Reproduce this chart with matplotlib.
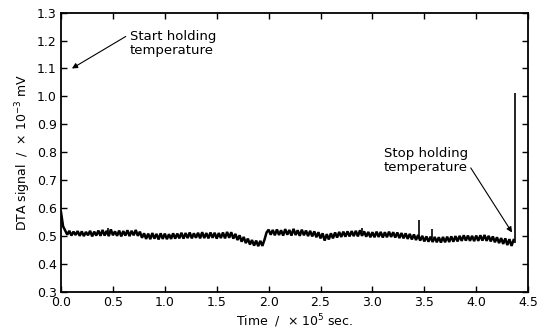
import numpy as np
import matplotlib
matplotlib.use("Agg")
import matplotlib.pyplot as plt

plt.rcParams['font.family'] = ['DejaVu Sans']
plt.rcParams['path.simplify'] = False

# DTA trace read off the picture, sampled every 0.02 x 10^5 s from 0 to 4.36
# (upper / lower edge of the noisy band taken in turn)
signal = [
    0.585, 0.535, 0.520, 0.505, 0.519, 0.502, 0.516, 0.504, 0.518, 0.501,
    0.517, 0.500, 0.515, 0.503, 0.519, 0.499, 0.516, 0.502, 0.520, 0.501,
    0.522, 0.502, 0.519, 0.500, 0.524, 0.503, 0.517, 0.501, 0.520, 0.499,
    0.518, 0.502, 0.521, 0.500, 0.519, 0.503, 0.522, 0.501, 0.516, 0.494,
    0.510, 0.490, 0.509, 0.489, 0.511, 0.491, 0.508, 0.488, 0.510, 0.490,
    0.509, 0.489, 0.507, 0.490, 0.510, 0.491, 0.509, 0.492, 0.512, 0.491,
    0.511, 0.493, 0.513, 0.492, 0.510, 0.494, 0.512, 0.492, 0.514, 0.493,
    0.511, 0.492, 0.513, 0.494, 0.512, 0.491, 0.511, 0.493, 0.513, 0.492,
    0.515, 0.494, 0.514, 0.491, 0.508, 0.486, 0.503, 0.480, 0.497, 0.475,
    0.491, 0.470, 0.486, 0.466, 0.484, 0.464, 0.483, 0.465, 0.487, 0.513,
    0.523, 0.505, 0.522, 0.503, 0.524, 0.504, 0.521, 0.502, 0.525, 0.505,
    0.522, 0.502, 0.526, 0.504, 0.521, 0.501, 0.523, 0.503, 0.520, 0.500,
    0.519, 0.499, 0.517, 0.496, 0.514, 0.492, 0.510, 0.484, 0.507, 0.488,
    0.510, 0.492, 0.513, 0.495, 0.515, 0.497, 0.516, 0.498, 0.517, 0.499,
    0.518, 0.500, 0.519, 0.499, 0.521, 0.501, 0.517, 0.498, 0.515, 0.496,
    0.514, 0.496, 0.516, 0.497, 0.515, 0.495, 0.514, 0.496, 0.516, 0.497,
    0.514, 0.495, 0.513, 0.493, 0.511, 0.492, 0.510, 0.490, 0.508, 0.488,
    0.506, 0.486, 0.504, 0.484, 0.501, 0.481, 0.499, 0.480, 0.498, 0.479,
    0.497, 0.478, 0.496, 0.477, 0.497, 0.478, 0.498, 0.479, 0.499, 0.480,
    0.500, 0.481, 0.501, 0.483, 0.503, 0.484, 0.502, 0.483, 0.501, 0.482,
    0.502, 0.483, 0.503, 0.484, 0.504, 0.483, 0.501, 0.481, 0.499, 0.478,
    0.496, 0.475, 0.493, 0.472, 0.492, 0.468, 0.489, 0.465, 0.486,
]
t_end = 4.36

# isolated spikes (time, base, top)
spike_t = [0.45, 2.90, 3.45, 3.57, 4.37]
spike_base = [0.515, 0.515, 0.500, 0.495, 0.475]
spike_top = [0.528, 0.530, 0.558, 0.527, 1.012]

time = np.linspace(0.0, t_end, len(signal))

fig = plt.figure(figsize=(5.4, 3.32), dpi=100)
ax = fig.add_axes([0.113, 0.1205, 0.865, 0.8415])

ax.plot(time, signal, color='black', lw=1.8, solid_joinstyle='bevel')
ax.vlines(spike_t, spike_base, spike_top, color='black', lw=1.2)

ax.set_xlim(0, 4.5)
ax.set_ylim(0.3, 1.3)
xt = np.arange(0, 4.51, 0.5)
yt = np.arange(0.3, 1.31, 0.1)
ax.set_xticks(xt)
ax.set_yticks(yt)
ax.set_xticklabels([f"{v:.1f}" for v in xt])
ax.set_yticklabels([f"{v:.1f}" for v in yt])
ax.tick_params(direction='in', top=True, right=True, length=4, width=1,
               labelsize=9, pad=3)
for s in ax.spines.values():
    s.set_linewidth(1.3)

ax.set_xlabel("Time  /  \u00d7 10$^5$ sec.", fontsize=9, labelpad=2)
ax.set_ylabel("DTA signal  /  \u00d7 10$^{-3}$ mV", fontsize=9, labelpad=3)

ax.annotate("Start holding\ntemperature", xy=(0.105, 1.10), xytext=(0.665, 1.19),
            fontsize=9.5, linespacing=1.15, va='center', ha='left',
            arrowprops=dict(arrowstyle='-|>', color='black', lw=0.8,
                            shrinkA=0, shrinkB=0, mutation_scale=8,
                            relpos=(-0.05, 0.75)))
ax.annotate("Stop holding\ntemperature", xy=(4.345, 0.513), xytext=(3.11, 0.77),
            fontsize=9.5, linespacing=1.15, va='center', ha='left',
            arrowprops=dict(arrowstyle='-|>', color='black', lw=0.8,
                            shrinkA=0, shrinkB=0, mutation_scale=8,
                            relpos=(1.02, 0.3)))

fig.savefig("out.png", dpi=100)
